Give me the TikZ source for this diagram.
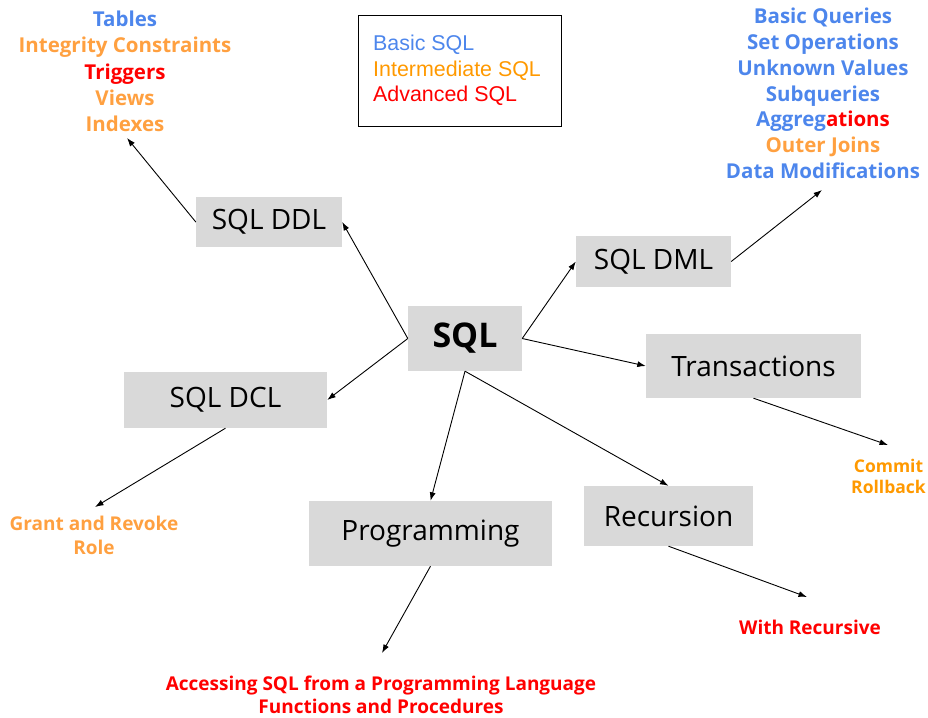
\documentclass[tikz,border=0pt]{standalone}
\usepackage{fontspec}
\setmainfont{Open Sans}
\newfontfamily\legendfont{Liberation Sans}
\usetikzlibrary{arrows.meta}

\definecolor{boxgray}{HTML}{D9D9D9}
\definecolor{basicblue}{HTML}{4D86EC}
\definecolor{midorange}{HTML}{FFA040}
\definecolor{legorange}{HTML}{FF9900}
\definecolor{advred}{HTML}{FF0000}

\begin{document}
\begin{tikzpicture}[x=1pt,y=-1pt,
  topic/.style={fill=boxgray, inner sep=0pt, text=black, font=\fontsize{28}{32}\selectfont},
  arr/.style={-{Latex[length=8.5pt,width=6pt]}, line width=0.9pt, black},
  item/.style={align=center, inner sep=0pt},
  itemfont/.style={font=\bfseries\fontsize{20.5}{#1}\selectfont},
  notefont/.style={font=\bfseries\fontsize{19}{#1}\selectfont}
]
\useasboundingbox (0,0) rectangle (928,717);

% topic boxes
\node[topic, minimum width=146pt, minimum height=50pt] (ddl)   at (269,222)     {SQL DDL};
\node[topic, minimum width=114pt, minimum height=65pt,
      font=\bfseries\fontsize{34}{36}\selectfont]       (sql)   at (465,338.5)   {SQL};
\node[topic, minimum width=203pt, minimum height=56pt] (dcl)   at (225.5,400)   {SQL DCL};
\node[topic, minimum width=155pt, minimum height=51pt] (dml)   at (653.5,261.5) {SQL DML};
\node[topic, minimum width=215pt, minimum height=64pt] (trans) at (753.5,366)   {Transactions};
\node[topic, minimum width=243pt, minimum height=65pt] (prog)  at (430.5,533.5) {Programming};
\node[topic, minimum width=169pt, minimum height=60pt] (rec)   at (668.5,516)   {Recursion};

% legend
\node[draw=black, line width=1pt, minimum width=203pt, minimum height=110pt, inner sep=0pt] (legend) at (459.5,71) {};
\node[anchor=west, align=left, inner sep=0pt, font=\legendfont\fontsize{21.4}{25.5}\selectfont] (legtext) at (373,70.5)
  {{\color{basicblue}Basic SQL}\\{\color{legorange}Intermediate SQL}\\{\color{advred}Advanced SQL}};

% topic lists
\node[item, itemfont=26.2] (ddllist) at (125,71.5)
  {{\color{basicblue}Tables}\\{\color{midorange}Integrity Constraints}\\{\color{advred}Triggers}\\{\color{midorange}Views}\\{\color{midorange}Indexes}};
\node[item, itemfont=25.8] (dmllist) at (823,93.5)
  {{\color{basicblue}Basic Queries}\\{\color{basicblue}Set Operations}\\{\color{basicblue}Unknown Values}\\{\color{basicblue}Subqueries}\\{\color{basicblue}Aggreg}{\color{advred}ations}\\{\color{midorange}Outer Joins}\\{\color{basicblue}Data Modifications}};
\node[item, font=\bfseries\fontsize{17.5}{21}\selectfont, text=legorange] (translist) at (888.5,476.5)
  {Commit\\Rollback};
\node[item, notefont=24, text=midorange] (dcllist) at (94,535)
  {Grant and Revoke\\Role};
\node[item, notefont=23, text=advred] (reclist) at (810,627) {With Recursive};
\node[item, notefont=23, text=advred] (proglist) at (381,694.5)
  {Accessing SQL from a Programming Language\\Functions and Procedures};

% connector ends below the lists
\coordinate (ddlend)   at (127,138);
\coordinate (dmlend)   at (822,190);
\coordinate (transend) at (888,445);
\coordinate (dclend)   at (95,507);
\coordinate (progend)  at (382,653);
\coordinate (recend)   at (807,597);

% connectors from the centre
\draw[arr] (sql.west)  -- (ddl.east);
\draw[arr] (sql.west)  -- (dcl.east);
\draw[arr] (sql.east)  -- (dml.west);
\draw[arr] (sql.east)  -- (trans.west);
\draw[arr] (sql.south) -- (prog.north);
\draw[arr] (sql.south) -- (rec.north);

% connectors to the lists
\draw[arr] (ddl.west)  -- (ddlend);
\draw[arr] (dml.east)  -- (dmlend);
\draw[arr] (trans.south) -- (transend);
\draw[arr] (dcl.south) -- (dclend);
\draw[arr] (prog.south) -- (progend);
\draw[arr] (rec.south) -- (recend);
\end{tikzpicture}
\end{document}
